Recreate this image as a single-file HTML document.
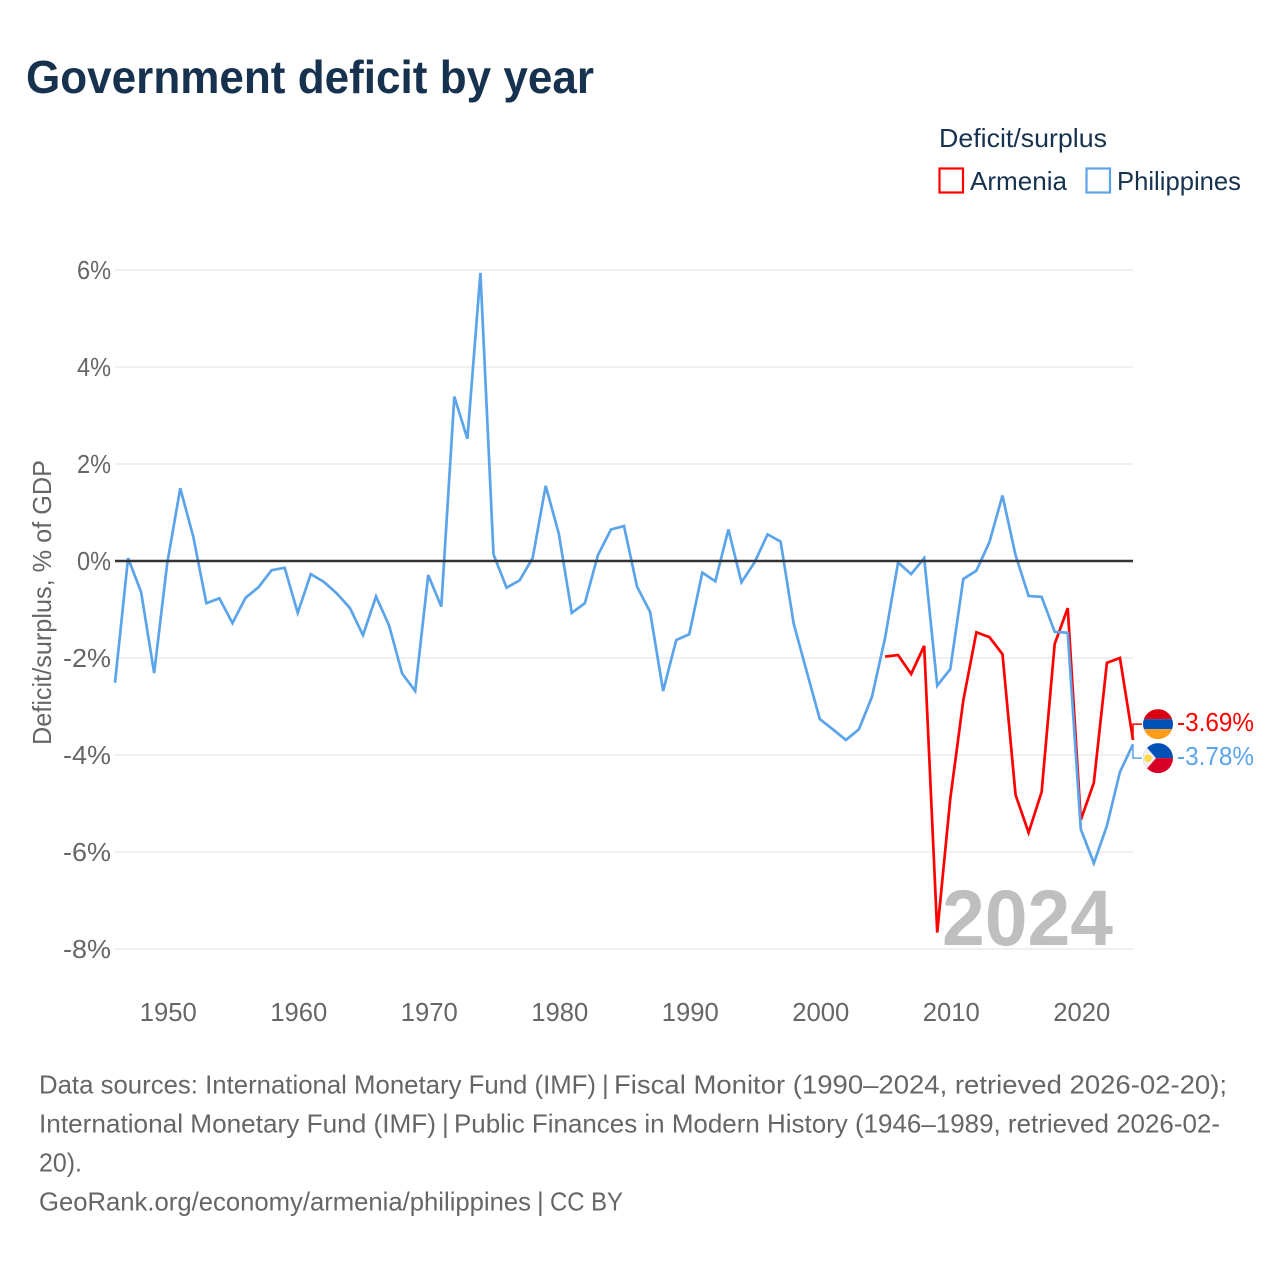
<!DOCTYPE html>
<html lang="en">
<head>
<meta charset="utf-8">
<title>Government deficit by year</title>
<style>
html,body{margin:0;padding:0;background:#fff;}
svg{display:block;font-family:"Liberation Sans",sans-serif;}
</style>
</head>
<body>
<svg id="chart" xmlns="http://www.w3.org/2000/svg" width="1280" height="1280" viewBox="0 0 1280 1280">
  <rect x="0" y="0" width="1280" height="1280" fill="#ffffff"/>
  <text x="26" y="93" font-size="46" font-weight="700" fill="#17324f" textLength="568" lengthAdjust="spacingAndGlyphs">Government deficit by year</text>

  <text x="939" y="147" font-size="26" fill="#17324f" textLength="168" lengthAdjust="spacingAndGlyphs">Deficit/surplus</text>
  <g>
    <rect x="939.5" y="168.5" width="23.5" height="24" fill="#ffffff" stroke="#ff0000" stroke-width="2.2"/>
    <text x="970" y="190" font-size="26" fill="#17324f" textLength="97" lengthAdjust="spacingAndGlyphs">Armenia</text>
  </g>
  <g>
    <rect x="1086.5" y="168.5" width="23.5" height="24" fill="#ffffff" stroke="#5ba4ea" stroke-width="2.2"/>
    <text x="1117" y="190" font-size="26" fill="#17324f" textLength="124" lengthAdjust="spacingAndGlyphs">Philippines</text>
  </g>

  <text transform="translate(51 745) rotate(-90)" x="0" y="0" font-size="26" fill="#666666" textLength="285" lengthAdjust="spacingAndGlyphs">Deficit/surplus, % of GDP</text>

  <g id="grid"></g>
  <g id="yticks"></g>
  <g id="xticks"></g>

  <text x="942" y="945" font-size="79" font-weight="700" fill="#bfbfbf" textLength="171" lengthAdjust="spacingAndGlyphs">2024</text>

  <g id="series"></g>
  <g id="zero"></g>

  <defs>
    <clipPath id="clip-am"><circle cx="0" cy="0" r="15"/></clipPath>
    <clipPath id="clip-ph"><circle cx="0" cy="0" r="15"/></clipPath>
  </defs>
  <g id="flag-am">
    <g clip-path="url(#clip-am)">
      <rect x="-15" y="-15" width="30" height="10" fill="#d90012"/>
      <rect x="-15" y="-5" width="30" height="10" fill="#0050b5"/>
      <rect x="-15" y="5" width="30" height="10" fill="#ff9d1b"/>
    </g>
  </g>
  <g id="flag-ph">
    <g clip-path="url(#clip-ph)">
      <rect x="-15" y="-15" width="30" height="15" fill="#0050b5"/>
      <rect x="-15" y="0" width="30" height="15" fill="#d80027"/>
      <polygon points="-15,-15 -15,15 -2,0" fill="#f0f0f0"/>
      <circle cx="-10" cy="0" r="3.8" fill="#ffda44"/>
    </g>
  </g>
  <g id="end-labels"></g>

  <g font-size="26" fill="#666666">
    <text x="39" y="1093.5" textLength="557" lengthAdjust="spacingAndGlyphs">Data sources: International Monetary Fund (IMF)</text>
    <text x="602" y="1093.5">|</text>
    <text x="614" y="1093.5" textLength="613" lengthAdjust="spacingAndGlyphs">Fiscal Monitor (1990–2024, retrieved 2026-02-20);</text>
    <text x="39" y="1132.5" textLength="397" lengthAdjust="spacingAndGlyphs">International Monetary Fund (IMF)</text>
    <text x="442" y="1132.5">|</text>
    <text x="454" y="1132.5" textLength="766" lengthAdjust="spacingAndGlyphs">Public Finances in Modern History (1946–1989, retrieved 2026-02-</text>
    <text x="39" y="1171.5" textLength="43" lengthAdjust="spacingAndGlyphs">20).</text>
    <text x="39" y="1210.5" textLength="492" lengthAdjust="spacingAndGlyphs">GeoRank.org/economy/armenia/philippines</text>
    <text x="537" y="1210.5">|</text>
    <text x="550" y="1210.5" textLength="73" lengthAdjust="spacingAndGlyphs">CC BY</text>
  </g>
</svg>

<script>
const startYear = 1946;
const endYear = 2024;
const yTickValues = [6, 4, 2, 0, -2, -4, -6, -8];
const xTickValues = [1950, 1960, 1970, 1980, 1990, 2000, 2010, 2020];
const armeniaStartYear = 2005;
const armeniaValues = [-1.97, -1.94, -2.33, -1.75, -7.66, -4.9, -2.87, -1.47, -1.57, -1.92, -4.82, -5.6, -4.76, -1.71, -0.97, -5.34, -4.57, -2.1, -2.0, -3.69];
const philippinesStartYear = 1946;
const philippinesValues = [
  -2.51, 0.06, -0.64, -2.31, -0.05, 1.5, 0.5, -0.87, -0.77, -1.28,
  -0.76, -0.54, -0.19, -0.14, -1.07, -0.27, -0.43, -0.67, -0.97, -1.53,
  -0.73, -1.33, -2.32, -2.68, -0.29, -0.94, 3.39, 2.52, 5.94, 0.14,
  -0.55, -0.4, 0.06, 1.55, 0.57, -1.07, -0.87, 0.12, 0.65, 0.72,
  -0.53, -1.05, -2.68, -1.63, -1.51, -0.24, -0.42, 0.65, -0.44, -0.03,
  0.55, 0.4, -1.29, -2.28, -3.26, -3.47, -3.69, -3.47, -2.8, -1.59,
  -0.03, -0.27, 0.06, -2.57, -2.23, -0.37, -0.2, 0.39, 1.35, 0.12,
  -0.72, -0.74, -1.46, -1.48, -5.53, -6.23, -5.46, -4.35, -3.78
];

const NS = 'http://www.w3.org/2000/svg';
const plotLeft = 115, plotRight = 1133;
function xScale(year) {
  return plotLeft + (year - startYear) * (plotRight - plotLeft) / (endYear - startYear);
}
function yScale(value) {
  return 561 - value * 48.5;
}
function make(tag, attrs, parent) {
  const el = document.createElementNS(NS, tag);
  for (const k in attrs) el.setAttribute(k, attrs[k]);
  parent.appendChild(el);
  return el;
}
function pathFor(values, firstYear) {
  return values.map(function (v, i) {
    return (i ? 'L' : 'M') + xScale(firstYear + i).toFixed(2) + ' ' + yScale(v).toFixed(2);
  }).join(' ');
}

const gridG = document.getElementById('grid');
const yG = document.getElementById('yticks');
yTickValues.forEach(function (v) {
  if (v !== 0) {
    const gl = make('line', {x1: plotLeft, x2: plotRight, y1: yScale(v), y2: yScale(v), stroke: '#ececec', 'stroke-width': 1.5}, gridG);
    
    
  }
  const label = v + '%';
  const labelWidth = label.length * 14 + 6;
  const t = make('text', {x: 111 - labelWidth, y: yScale(v) + 9, 'font-size': 26, fill: '#666666', textLength: labelWidth, lengthAdjust: 'spacingAndGlyphs'}, yG);
  
  
  t.textContent = label;
});

const xG = document.getElementById('xticks');
xTickValues.forEach(function (yr) {
  const t = make('text', {x: xScale(yr) - 27.5, y: 1021, 'font-size': 26, fill: '#666666', textLength: 57, lengthAdjust: 'spacingAndGlyphs'}, xG);
  
  
  t.textContent = yr;
});

const zeroG = document.getElementById('zero');
const zeroLine = make('line', {x1: plotLeft, x2: plotRight, y1: yScale(0), y2: yScale(0), stroke: '#333333', 'stroke-width': 2.5}, zeroG);



const seriesG = document.getElementById('series');
const redLine = make('path', {d: pathFor(armeniaValues, armeniaStartYear), fill: 'none', stroke: '#ff0000', 'stroke-width': 2.7, 'stroke-linejoin': 'miter', 'stroke-miterlimit': 4}, seriesG);


const blueLine = make('path', {d: pathFor(philippinesValues, philippinesStartYear), fill: 'none', stroke: '#5ba4ea', 'stroke-width': 2.7, 'stroke-linejoin': 'miter', 'stroke-miterlimit': 4}, seriesG);



const lastRed = armeniaValues[armeniaValues.length - 1];
const lastBlue = philippinesValues[philippinesValues.length - 1];
const yRed = yScale(lastRed), yBlue = yScale(lastBlue);
const mid = (yRed + yBlue) / 2;
const labelRedY = mid - 18, labelBlueY = mid + 16;
const endG = document.getElementById('end-labels');
const connRed = make('path', {d: 'M1133 ' + yRed + ' V' + labelRedY + ' H1142', fill: 'none', stroke: '#ff0000', 'stroke-width': 1.5}, endG);


const connBlue = make('path', {d: 'M1133 ' + yBlue + ' V' + labelBlueY + ' H1142', fill: 'none', stroke: '#5ba4ea', 'stroke-width': 1.5}, endG);


document.getElementById('flag-am').setAttribute('transform', 'translate(1158 ' + labelRedY + ')');
document.getElementById('flag-ph').setAttribute('transform', 'translate(1158 ' + labelBlueY + ')');
const valRed = make('text', {x: 1177, y: labelRedY + 7, 'font-size': 26, fill: '#ff0000', textLength: 77, lengthAdjust: 'spacingAndGlyphs'}, endG);


valRed.textContent = lastRed.toFixed(2) + '%';
const valBlue = make('text', {x: 1177, y: labelBlueY + 7, 'font-size': 26, fill: '#5ba4ea', textLength: 77, lengthAdjust: 'spacingAndGlyphs'}, endG);


valBlue.textContent = lastBlue.toFixed(2) + '%';
</script>
</body>
</html>
